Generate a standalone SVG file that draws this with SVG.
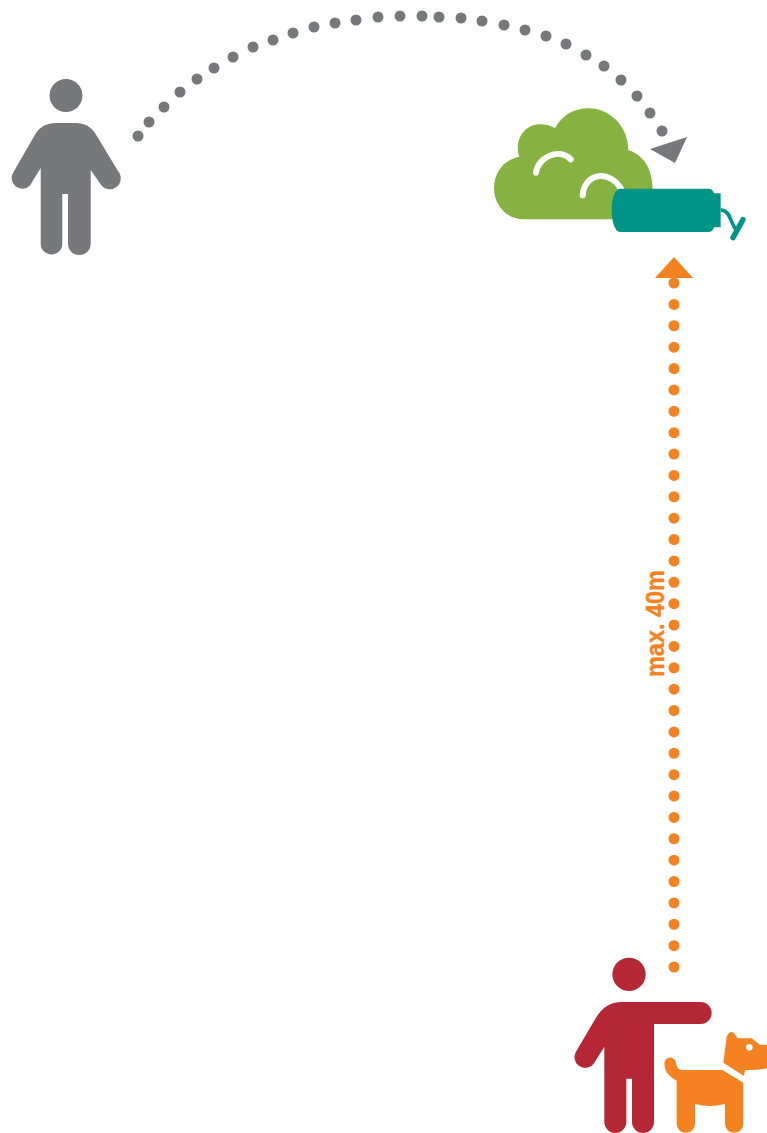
<svg xmlns="http://www.w3.org/2000/svg" width="767" height="1133" viewBox="0 0 767 1133">
<style>
.g{fill:#77787b}.o{fill:#f58220}
.arc{fill:none;stroke:#fff;stroke-width:18;stroke-linecap:round}
.label{font-family:"Liberation Sans",Arial,sans-serif;font-weight:700;font-size:26px;fill:#f58220;stroke:#f58220;stroke-width:.4px}
</style>
<rect width="767" height="1133" fill="#fff"/>
<g id="walker">
<circle class="g" cx="66" cy="95.500" r="16.500"/>
<path class="g" d="M55,123H77Q88,123 95,133L118,171A10.700,10.700 0 0 1 101.500,185.500L90.700,170V243.700A11.300,11.300 0 0 1 68,243.700V194H62.300V243.700A10.800,10.800 0 0 1 40.700,243.700V168L30,185.500A10.700,10.700 0 0 1 13.500,172L36,133Q43,123 55,123Z"/>
</g>
<g id="target" transform="translate(480 90) scale(.33333)">
<path fill="#85b240" d="M130,388C80,388 42,345 42,295C42,245 75,208 118,200C100,150 135,103 180,103C197,103 212,107 225,115C245,78 280,55 325,55C390,55 445,110 445,180C490,195 518,235 518,300L518,340L420,388Z"/>
<path class="arc" d="M168,248C172,205 235,170 272,208"/>
<path class="arc" d="M308,316C312,250 390,235 425,300"/>
<path fill="#009487" d="M420,296H685Q698,296 702,310H722V412H702Q698,426 685,426H420C405,426 395,395 395,360C395,325 405,296 420,296Z"/>
<path fill="none" stroke="#009487" stroke-width="11" d="M722,360C750,360 750,395 768,420"/>
<path fill="none" stroke="#009487" stroke-width="16" stroke-linecap="round" d="M789,389L759,443"/>
</g>
<g id="handler" transform="translate(560 940) scale(.33333)">
<circle cx="207" cy="103" r="50" fill="#b52735"/>
<path fill="#b52735" d="M185,186H422A33,33 0 0 1 422,252H282V546A33,33 0 0 1 216,546V416H199V546A33,33 0 0 1 133,546V320L103,368A32,32 0 0 1 48,335L107,235Q135,186 185,186Z"/>
</g>
<g id="dog" transform="translate(560 940) scale(.33333)">
<path class="o" d="M490,368L500,290Q510,268 522,280L533,295H575L600,314H621V385Q600,390 555,390L552,408Z"/>
<path class="o" d="M350,422Q313,405 313,370A17.500,17.500 0 0 1 348,370Q350,388 365,390H487L550,428V551A27.500,27.500 0 0 1 495,551V492Q450,504 405,492V551A27.500,27.500 0 0 1 350,551Z"/>
<circle cx="568" cy="322" r="10" fill="#fff"/>
</g>
<g id="connectors">
<g id="throw" class="g">
<circle cx="138" cy="136" r="5.500"/><circle cx="149" cy="122" r="5.500"/><circle cx="164" cy="107" r="5.500"/><circle cx="180" cy="92" r="5.500"/><circle cx="197" cy="79" r="5.500"/><circle cx="214" cy="68" r="5.500"/><circle cx="233" cy="57" r="5.500"/><circle cx="253" cy="47" r="5.500"/><circle cx="273" cy="40" r="5.500"/><circle cx="293" cy="33" r="5.500"/><circle cx="314" cy="27" r="5.500"/><circle cx="335" cy="23" r="5.500"/><circle cx="356" cy="20" r="5.500"/><circle cx="378" cy="17" r="5.500"/><circle cx="400" cy="16" r="5.500"/><circle cx="422" cy="16" r="5.500"/><circle cx="439" cy="17" r="5.500"/><circle cx="461" cy="18" r="5.500"/><circle cx="482" cy="21" r="5.500"/><circle cx="504" cy="25" r="5.500"/><circle cx="525" cy="30" r="5.500"/><circle cx="546" cy="36" r="5.500"/><circle cx="566" cy="44" r="5.500"/><circle cx="586" cy="55" r="5.500"/><circle cx="604" cy="66" r="5.500"/><circle cx="621" cy="80" r="5.500"/><circle cx="637" cy="96" r="5.500"/><circle cx="650" cy="113" r="5.500"/><circle cx="662" cy="131" r="5.500"/>
<polygon points="687,137 650,149 675,163"/>
</g>
<g id="range" class="o">
<path fill="none" stroke="#f58220" stroke-width="11" stroke-linecap="round" stroke-dasharray="0 21.375" d="M674,283V968"/>
<polygon points="674,257 655,278 693,278"/>
</g>
</g>
<text class="label" transform="translate(664 677) rotate(-90)" textLength="107" lengthAdjust="spacingAndGlyphs">max. 40m</text>
</svg>
